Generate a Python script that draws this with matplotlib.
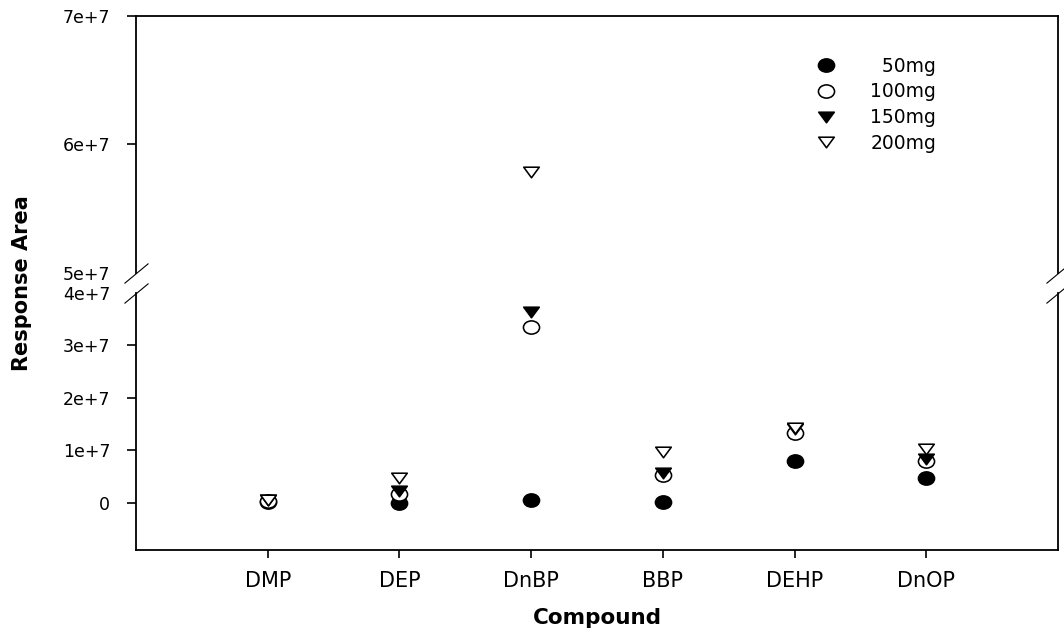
import matplotlib
matplotlib.use("Agg")
import matplotlib.pyplot as plt
from matplotlib.path import Path
from matplotlib.transforms import Affine2D
from matplotlib.markers import MarkerStyle
from matplotlib.ticker import FuncFormatter

# ---- data -------------------------------------------------------------
compounds = ["DMP", "DEP", "DnBP", "BBP", "DEHP", "DnOP"]
dose_labels = ["50mg", "100mg", "150mg", "200mg"]

area_50mg = [2e5, 5e4, 6e5, 1e5, 8.0e6, 4.7e6]
area_100mg = [3e5, 1.7e6, 3.36e7, 5.3e6, 1.33e7, 7.9e6]
area_150mg = [5e5, 2.2e6, 3.64e7, 5.6e6, 1.40e7, 8.4e6]
area_200mg = [6e5, 4.7e6, 5.785e7, 9.7e6, 1.42e7, 1.03e7]

lower_ticks = [0, 1e7, 2e7, 3e7, 4e7]
upper_ticks = [5e7, 6e7, 7e7]
lower_range = (-0.9e7, 4e7)
upper_range = (5e7, 7e7)

plt.rcParams["font.family"] = ["DejaVu Sans"]

W, H = 1064, 639
fig = plt.figure(figsize=(W / 100, H / 100), dpi=100)

x_left, x_right = 136 / W, 1058 / W
ax_hi = fig.add_axes([x_left, 1 - 273 / H, x_right - x_left, (273 - 16) / H])
ax_lo = fig.add_axes([x_left, 1 - 550 / H, x_right - x_left, (550 - 293) / H])

# slightly flattened circle and a wide downward triangle
ellipse = Affine2D().scale(1, 0.82).transform_path(Path.unit_circle())
tri_down = Path([(-1, 0.68), (1, 0.68), (0, -0.68), (-1, 0.68)],
                [Path.MOVETO, Path.LINETO, Path.LINETO, Path.CLOSEPOLY])
m_circle = MarkerStyle(ellipse)
m_tri = MarkerStyle(tri_down, joinstyle="miter")

series = [
    (area_50mg, m_circle, "black", 11.6),
    (area_100mg, m_circle, "white", 11.6),
    (area_150mg, m_tri, "black", 11.2),
    (area_200mg, m_tri, "white", 11.2),
]
xpos = list(range(1, len(compounds) + 1))

for ax in (ax_hi, ax_lo):
    for (vals, mk, fc, ms), lab in zip(series, dose_labels):
        ax.plot(xpos, vals, linestyle="none", marker=mk, markersize=ms,
                markerfacecolor=fc, markeredgecolor="black",
                markeredgewidth=1.15, label=lab)
    ax.set_xlim(0, len(compounds) + 1)
    for sp in ax.spines.values():
        sp.set_linewidth(1.3)

def sci_label(v, _pos=None):
    if v == 0:
        return "0"
    return f"{v / 1e7:.0f}e+7"

# upper panel
ax_hi.set_ylim(*upper_range)
ax_hi.set_yticks(upper_ticks)
ax_hi.yaxis.set_major_formatter(FuncFormatter(sci_label))
ax_hi.spines["bottom"].set_visible(False)
ax_hi.tick_params(axis="x", bottom=False, labelbottom=False)
ax_hi.tick_params(axis="y", direction="out", length=6.5, width=1.2,
                  labelsize=12.5, pad=12)

# lower panel
ax_lo.set_ylim(*lower_range)
ax_lo.set_yticks(lower_ticks)
ax_lo.yaxis.set_major_formatter(FuncFormatter(sci_label))
ax_lo.spines["top"].set_visible(False)
ax_lo.set_xticks(xpos)
ax_lo.set_xticklabels(compounds)
ax_lo.tick_params(axis="x", direction="out", length=5.8, width=1.2,
                  labelsize=15, pad=9)
ax_lo.tick_params(axis="y", direction="out", length=6.5, width=1.2,
                  labelsize=12.5, pad=12)

# no tick marks at the break, only the labels
ax_hi.yaxis.get_major_ticks()[0].tick1line.set_visible(False)
ax_lo.yaxis.get_major_ticks()[-1].tick1line.set_visible(False)

# diagonal break marks on both vertical spines
slash = MarkerStyle(Path([(-1, -0.83), (1, 0.83)]))
ax_hi.plot([0, 1], [0, 0], transform=ax_hi.transAxes, linestyle="none",
           marker=slash, markersize=17.3, markeredgewidth=0.8,
           color="black", clip_on=False)
ax_lo.plot([0, 1], [1, 1], transform=ax_lo.transAxes, linestyle="none",
           marker=slash, markersize=17.3, markeredgewidth=0.8,
           color="black", clip_on=False)

# legend: figure space keeps the dose labels right-aligned
handles = ax_hi.get_lines()[:4]
legend_labels = ["\u2007" + dose_labels[0]] + dose_labels[1:]
ax_hi.legend(handles, legend_labels, loc="upper left",
             bbox_to_anchor=(0.7386, 0.842), frameon=False, fontsize=13.5,
             handlelength=1.0, handletextpad=1.85, labelspacing=0.36,
             borderpad=0, borderaxespad=0)

fig.text(22 / W, 1 - 283 / H, "Response Area", rotation=90, fontsize=15,
         fontweight="bold", ha="center", va="center")
fig.text(597 / W, 1 - 618 / H, "Compound", fontsize=15.5,
         fontweight="bold", ha="center", va="center")

fig.savefig("out.png", dpi=100, facecolor="white")
